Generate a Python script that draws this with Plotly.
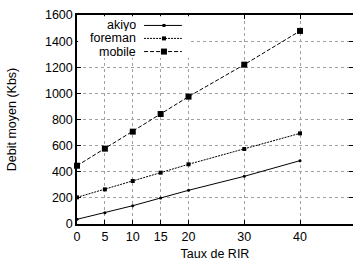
import plotly.graph_objects as go

x_rir = [0, 5, 10, 15, 20, 30, 40]
akiyo = [36, 87, 140, 199, 258, 365, 485]
foreman = [204, 265, 329, 393, 457, 574, 694]
mobile = [446, 577, 707, 842, 975, 1220, 1478]
series_names = ["akiyo", "foreman", "mobile"]
y_ticks = [0, 200, 400, 600, 800, 1000, 1200, 1400, 1600]

FONT = "Liberation Sans, Arial, sans-serif"
styles = [
    dict(dash="solid", symbol="circle", size=3),
    dict(dash="2px,1px", symbol="square", size=4),
    dict(dash="4px,2px", symbol="square", size=6),
]

fig = go.Figure()
for name, ys, st in zip(series_names, [akiyo, foreman, mobile], styles):
    fig.add_trace(go.Scatter(
        x=x_rir, y=ys, name=name, mode="lines+markers", cliponaxis=False,
        line=dict(color="black", width=1, dash=st["dash"]),
        marker=dict(color="black", symbol=st["symbol"], size=st["size"], line=dict(width=0)),
        showlegend=False,
    ))

# manual gnuplot-style legend (text right, sample on the right)
shapes = [dict(type="rect", xref="paper", yref="paper", x0=0.004, x1=0.406, y0=0.794, y1=0.994,
               fillcolor="white", line=dict(width=0), layer="above")]
annotations = []
rows_y = [0.950, 0.888, 0.825]
for name, st, yy in zip(series_names, styles, rows_y):
    annotations.append(dict(xref="paper", yref="paper", x=0.221, y=yy, text=name, showarrow=False,
                            xanchor="right", yanchor="middle", height=12,
                            font=dict(family=FONT, size=12.5, color="black")))
    shapes.append(dict(type="line", xref="paper", yref="paper", x0=0.243, x1=0.38, y0=yy, y1=yy,
                       line=dict(color="black", width=1, dash=st["dash"]), layer="above"))
    h = st["size"] / 2
    shapes.append(dict(type="rect", xref="paper", yref="paper", xsizemode="pixel", ysizemode="pixel",
                       xanchor=0.315, yanchor=yy, x0=-h, x1=h, y0=-h, y1=h,
                       fillcolor="black", line=dict(width=0), layer="above"))

fig.update_layout(
    width=353, height=262,
    margin=dict(l=77, r=0, t=15, b=38, autoexpand=False),
    paper_bgcolor="white", plot_bgcolor="white",
    font=dict(family=FONT, size=12, color="black"),
    shapes=shapes, annotations=annotations,
    showlegend=False,
)
grid = dict(showgrid=True, gridcolor="#a0a0a0", griddash="dot", gridwidth=1)
fig.update_xaxes(
    range=[0, 49.5], tickvals=x_rir, ticktext=[str(v) for v in x_rir],
    ticks="inside", ticklen=4, tickcolor="black", showline=True, linecolor="black", linewidth=1.5,
    mirror="ticks", zeroline=False, tickfont=dict(size=12.5), automargin=False,
    title=dict(text="Taux de RIR", font=dict(size=12.5), standoff=6), **grid,
)
fig.update_yaxes(
    range=[0, 1600], tickvals=y_ticks, ticks="inside", ticklen=4, tickcolor="black",
    showline=True, linecolor="black", linewidth=1.5, mirror="ticks", zeroline=False,
    tickfont=dict(size=12.5), automargin=False,
    title=dict(text="Debit moyen (Kbs)", font=dict(size=12.5), standoff=26), **grid,
)
fig.write_html("out.html", config={"displayModeBar": False},
               post_script="document.body.style.margin='0';")
